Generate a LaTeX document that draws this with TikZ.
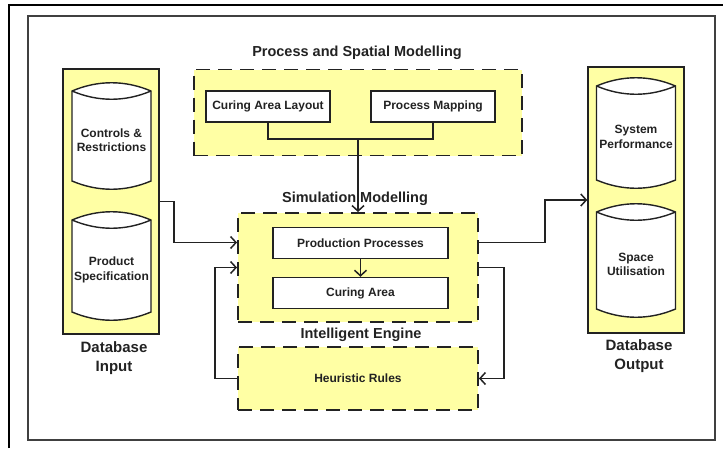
\documentclass[tikz,border=0pt]{standalone}
\usepackage{fontspec}
\setmainfont{Liberation Sans}
\usetikzlibrary{arrows.meta}
\definecolor{dbyellow}{RGB}{255,255,164}
\definecolor{inkgrey}{RGB}{34,34,34}
\begin{document}
\begin{tikzpicture}
[x=1pt,y=-1pt,
  groupdecorate/.style={draw=inkgrey,fill=dbyellow,line width=1.9pt,dash pattern=on 14pt off 8pt,
    inner sep=0pt,text=inkgrey,font=\fontsize{12}{14}\selectfont\bfseries},%
  dbdecorate/.style={draw=inkgrey,fill=dbyellow,line width=1.4pt,inner sep=0pt,
    minimum width=96pt},%
  boxdecorate/.style={draw=inkgrey,fill=white,line width=1.5pt,inner sep=0pt,
    text=inkgrey,font=\fontsize{12}{14}\selectfont\bfseries},%
  cyldecorate/.style={draw=inkgrey,fill=white,line width=1.4pt},%
  cyltext/.style={inner sep=0pt,minimum width=79pt,align=center,text=inkgrey,
    font=\fontsize{12}{14.5}\selectfont\bfseries},%
  titledecorate/.style={inner sep=0pt,text=inkgrey,font=\fontsize{14.5}{17}\selectfont\bfseries},%
  dbtitledecorate/.style={inner sep=0pt,align=center,text=inkgrey,
    font=\fontsize{15}{18.5}\selectfont\bfseries},%
  linedecorate/.style={draw=inkgrey,line width=1.6pt},%
  arrowdecorate/.style={linedecorate,-{Straight Barb[length=5.5pt,width=12pt,line width=1.5pt]}}]
\useasboundingbox (0,0) rectangle (723,448);
%% frames
\draw[line width=2pt] (9,448) -- (9,5) -- (723,5);
\draw[line width=1.2pt,draw=black!75] (28,16) rectangle (715,440);
\draw[line width=2.6pt,draw=black!75] (28,440) -- (715,440);
%% databases
\node (dbin) at (111,201.5) [dbdecorate,minimum height=265pt] {};
\node (dbout) at (636,200) [dbdecorate,minimum height=266pt] {};
\foreach \nodename/\x/\y/\h/\txt in {c1/111.5/140/82/{Controls \&\\Restrictions},
    c2/111.5/270/84/{Product\\Specification}, c3/636/137/86/{System\\Performance},
    c4/636/264.5/89/{Space\\Utilisation}} {
  \pgfmathsetmacro\ytop{\y-\h/2-8}
  \pgfmathsetmacro\ybot{\y+\h/2}
  \pgfmathsetmacro\xl{\x-39.5}
  \pgfmathsetmacro\xr{\x+39.5}
  \draw[cyldecorate] (\xl,\ytop) .. controls +(26,-11) and +(-26,-11) .. (\xr,\ytop)
    -- (\xr,\ybot) .. controls +(-26,11) and +(26,11) .. (\xl,\ybot) -- cycle;
  \draw[cyldecorate] (\xl,\ytop) .. controls +(26,11) and +(-26,11) .. (\xr,\ytop);
  \node (\nodename) at (\x,\y) [cyltext,minimum height=\h] {\txt};
}
\node (dbintitle) at (114,358) [dbtitledecorate] {Database\\Input};
\node (dbouttitle) at (639,356) [dbtitledecorate] {Database\\Output};
%% groups
\node (psm) at (358,112.5) [groupdecorate,minimum width=328pt,minimum height=86pt] {};
\node (sm) at (358,267.5) [groupdecorate,minimum width=240pt,minimum height=109pt] {};
\node (ie) at (358,378.5) [groupdecorate,minimum width=240pt,minimum height=63pt] {Heuristic Rules};
\node (psmtitle) at (357,53) [titledecorate] {Process and Spatial Modelling};
\node (smtitle) at (355,199) [titledecorate] {Simulation Modelling};
\node (ietitle) at (361,335) [titledecorate] {Intelligent Engine};
%% boxes
\foreach \nodename/\x/\y/\w/\txt in {cal/268/106.5/124/Curing Area Layout,
    pm/433/106.5/124/Process Mapping, pp/360.5/243/175/Production Processes,
    ca/360.5/293/175/Curing Area} {
  \node (\nodename) at (\x,\y) [boxdecorate,minimum width=\w pt,minimum height=31pt] {\txt};
}
%% connectors
\coordinate (join) at (358,139);
\draw[linedecorate] (cal.south) |- (join) -| (pm.south);
\draw[arrowdecorate] (join) -- (sm.north);
\draw[arrowdecorate] (pp) -- (ca);
\draw[arrowdecorate] (dbin.east) -- ++(14,0) |- ([yshift=25pt]sm.west);
\draw[arrowdecorate] ([yshift=25pt]sm.east) -- ++(66,0) |- (dbout.west);
\draw[arrowdecorate] (ie.west) -- ++(-22,0) |- (sm.west);
\draw[arrowdecorate] (sm.east) -- ++(25,0) |- (ie.east);
\end{tikzpicture}
\end{document}
